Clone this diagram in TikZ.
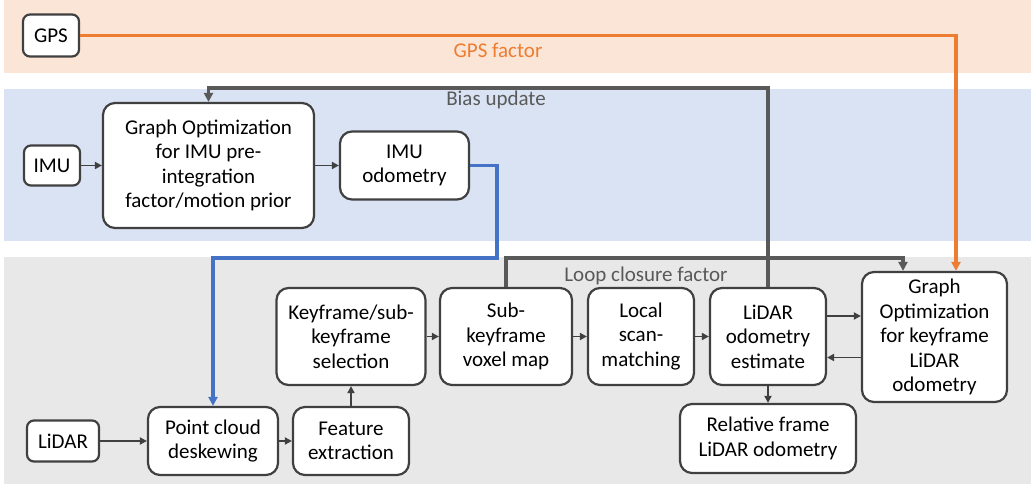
\documentclass[tikz,border=0pt]{standalone}
\usepackage{fontspec}
\setmainfont{Carlito}
\usetikzlibrary{arrows.meta,calc}
\definecolor{bandO}{RGB}{251,229,214}
\definecolor{bandB}{RGB}{218,227,243}
\definecolor{bandG}{RGB}{232,232,232}
\definecolor{boxc}{RGB}{64,64,64}
\definecolor{lineg}{RGB}{89,89,89}
\definecolor{lineb}{RGB}{68,114,196}
\definecolor{lineo}{RGB}{237,125,49}
\tikzset{
  box/.style={draw=boxc, line width=2.2pt, rounded corners=12pt, fill=white,
    align=center, inner sep=0pt, font=\fontsize{21pt}{24.6pt}\selectfont, text=black},
  sbox/.style={box, rounded corners=7pt},
  arr/.style={draw=boxc, line width=1.8pt, -{Triangle[length=7pt,width=7pt]}},
  thick gray/.style={draw=lineg, line width=3.2pt, -{Triangle[length=9pt,width=9pt]}},
  lbl/.style={font=\fontsize{21pt}{24.6pt}\selectfont, inner sep=0pt},
}
\begin{document}
\begin{tikzpicture}[x=1pt,y=-1pt]
\useasboundingbox (0,0) rectangle (1031,484);
% bands
\fill[bandO] (4,0) rectangle (1031,73);
\fill[bandB] (4,89) rectangle (1031,241);
\fill[bandG] (4,257) rectangle (1031,484);

% nodes
\node[sbox, minimum width=56pt, minimum height=42pt] (gps) at (51,35.5) {GPS};
\node[sbox, minimum width=56pt, minimum height=40pt] (imu) at (52,165.5) {IMU};
\node[box, minimum width=211pt, minimum height=125pt] (gimu) at (208.5,165.5) {Graph Optimization\\for IMU pre-\\integration\\factor/motion prior};
\node[box, minimum width=129pt, minimum height=68pt] (imuodom) at (404.5,165.5) {IMU\\odometry};
\node[sbox, minimum width=72pt, minimum height=41pt] (lidar) at (63,441) {LiDAR};
\node[box, minimum width=130pt, minimum height=68pt] (pcd) at (213,441) {Point cloud\\deskewing};
\node[box, minimum width=116pt, minimum height=68pt] (fe) at (351,441) {Feature\\extraction};
\node[box, minimum width=149pt, minimum height=97pt] (kf) at (351,336.5) {Keyframe/sub-\\keyframe\\selection};
\node[box, minimum width=132pt, minimum height=97pt] (skv) at (506,336.5) {Sub-\\keyframe\\voxel map};
\node[box, minimum width=106pt, minimum height=97pt] (lsm) at (641,336.5) {Local\\scan-\\matching};
\node[box, minimum width=116pt, minimum height=97pt] (lod) at (768,336.5) {LiDAR\\odometry\\estimate};
\node[box, minimum width=145pt, minimum height=130pt] (gok) at (934.5,337) {Graph\\Optimization\\for keyframe\\LiDAR\\odometry};
\node[box, minimum width=176pt, minimum height=69pt] (rel) at (768,438.5) {Relative frame\\LiDAR odometry};

% labels
\node[lbl, text=lineo] (gpsl) at (498,50) {GPS factor};
\node[lbl, text=lineg] (biasl) at (496,100) {Bias update};
\node[lbl, text=lineg] (loopl) at (646,276) {Loop closure factor};

% short arrows
\draw[arr] (imu) -- (gimu);
\draw[arr] (gimu) -- (imuodom);
\draw[arr] (lidar) -- (pcd);
\draw[arr] (pcd) -- (fe);
\draw[arr] (fe) -- (kf);
\draw[arr] (kf) -- (skv);
\draw[arr] (skv) -- (lsm);
\draw[arr] (lsm) -- (lod);
\draw[arr] (lod) -- (rel);
\draw[arr] ([yshift=20.5pt]lod.east) -- ([yshift=20.5pt]lod.east -| gok.west);
\draw[arr] ([yshift=-20.5pt]gok.west) -- ([yshift=-20.5pt]gok.west -| lod.east);

% long connectors
\coordinate (bj) at (497,258);
\draw[draw=lineb, line width=3.2pt, -{Triangle[length=9pt,width=9pt]}] (imuodom.east) -| (bj) -| (pcd.north);
\coordinate (lc) at (903,258);
\draw[thick gray] (skv.north) |- (lc) -- (lc |- gok.north);
\coordinate (bc) at (208.5,88);
\draw[thick gray] (lod.north) |- (bc) -- (gimu.north);
\coordinate (gc) at (956,35.5);
\draw[draw=lineo, line width=3.2pt, -{Triangle[length=9pt,width=9pt]}] (gps.east) -- (gc) -- (gc |- gok.north);
\end{tikzpicture}
\end{document}
